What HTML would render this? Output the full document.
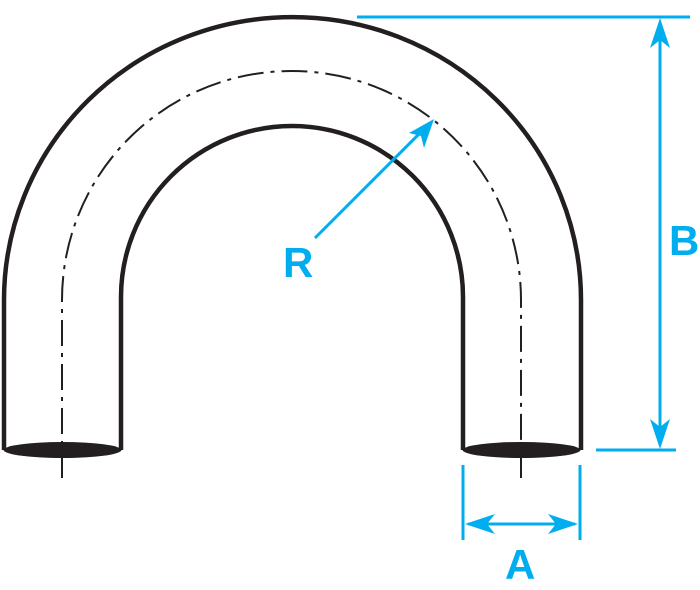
<!DOCTYPE html>
<html><head><style>html,body{margin:0;padding:0;background:#fff;width:700px;height:590px;overflow:hidden}</style></head>
<body>
<svg width="700" height="590" viewBox="0 0 700 590" xmlns="http://www.w3.org/2000/svg">
<g fill="none" stroke="#231f20" stroke-width="4.5">
<path d="M4,450 L4,300 A288.5,283 0 0 1 581,300 L581,450"/>
<path d="M121,450 L121,297 A171,171 0 0 1 463,297 L463,450"/>
</g>
<path d="M62,478 L62,300 A229.5,229 0 0 1 521,300 L521,478" fill="none" stroke="#231f20" stroke-width="2" stroke-dasharray="26,7,4,7"/>
<ellipse cx="62.5" cy="450" rx="59" ry="8" fill="#231f20"/>
<ellipse cx="521.5" cy="450" rx="59" ry="8" fill="#231f20"/>
<g stroke="#00aeef" stroke-width="3" fill="none">
<line x1="357" y1="17" x2="690" y2="17"/>
<line x1="596" y1="450" x2="676" y2="450"/>
<line x1="660" y1="22" x2="660" y2="445"/>
<line x1="463" y1="465" x2="463" y2="540"/>
<line x1="580" y1="465" x2="580" y2="540"/>
<line x1="468" y1="524" x2="575" y2="524"/>
<line x1="315" y1="238" x2="428" y2="125"/>
</g>
<g fill="#00aeef">
<path d="M660,18 L670,48 L660,40 L650,48 Z"/>
<path d="M660,449 L670,419 L660,427 L650,419 Z"/>
<path d="M465,524 L495,514 L487,524 L495,534 Z"/>
<path d="M578,524 L548,514 L556,524 L548,534 Z"/>
<path d="M434,119 L424,148 L421,136 L409,133 Z"/>
</g>
<g fill="#00aeef" font-family="Liberation Sans, sans-serif" font-weight="bold" font-size="42">
<text x="283" y="277">R</text>
<text x="505" y="579">A</text>
<text x="669" y="255">B</text>
</g>
</svg>
</body></html>
